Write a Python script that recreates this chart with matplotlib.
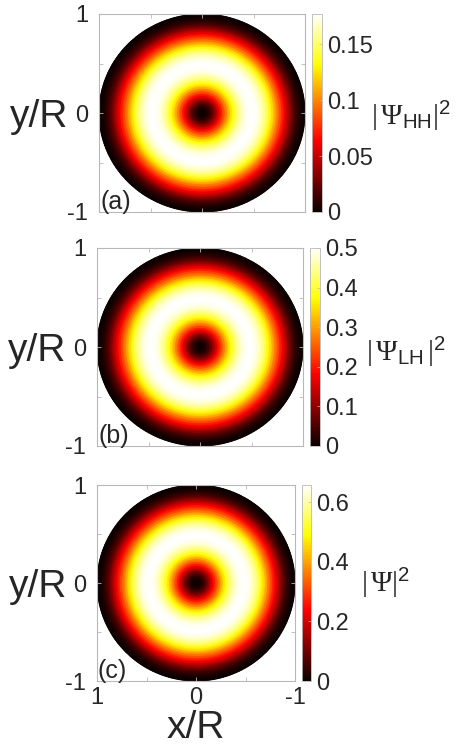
import numpy as np
import matplotlib
matplotlib.use('Agg')
import matplotlib.pyplot as plt

plt.rcParams['font.family'] = ['Liberation Sans', 'DejaVu Sans']
plt.rcParams['mathtext.fontset'] = 'custom'
plt.rcParams['mathtext.rm'] = 'Liberation Serif'
plt.rcParams['mathtext.sf'] = 'Liberation Sans'
plt.rcParams['mathtext.it'] = 'Liberation Serif:italic'

# radial profile (normalised to the peak), r = rho/R
r_nodes = [0.0, 0.025, 0.05, 0.075, 0.1, 0.125, 0.15, 0.175, 0.2, 0.225,
           0.25, 0.275, 0.3, 0.325, 0.35, 0.375, 0.4, 0.425, 0.45, 0.475,
           0.5, 0.525, 0.55, 0.575, 0.6, 0.625, 0.65, 0.675, 0.7, 0.725,
           0.75, 0.775, 0.8, 0.825, 0.85, 0.875, 0.9, 0.925, 0.95, 0.975, 1.0]
profile = [0.0, 0.01, 0.03, 0.07, 0.12, 0.19, 0.27, 0.36, 0.44, 0.52,
           0.6, 0.68, 0.75, 0.81, 0.87, 0.91, 0.95, 0.98, 0.99, 1.0,
           1.0, 0.99, 0.97, 0.94, 0.9, 0.85, 0.79, 0.72, 0.65, 0.57,
           0.5, 0.43, 0.36, 0.29, 0.22, 0.15, 0.1, 0.06, 0.03, 0.01, 0.0]

# per panel
peaks = [0.177, 0.5, 0.657]
panel_tags = ['(a)', '(b)', '(c)']
cbar_ticks = [[0, 0.05, 0.1, 0.15], [0, 0.1, 0.2, 0.3, 0.4, 0.5], [0, 0.2, 0.4, 0.6]]
cbar_ticklabels = [['0', '0.05', '0.1', '0.15'],
                   ['0', '0.1', '0.2', '0.3', '0.4', '0.5'],
                   ['0', '0.2', '0.4', '0.6']]
cbar_labels = [r'$|\,\Psi_{\mathsf{HH}}|^{\mathsf{2}}$',
               r'$|\,\Psi_{\mathsf{LH}}\,|^{\mathsf{2}}$',
               r'$|\,\Psi|^{\mathsf{2}}$']
axis_ticks = [-1, -0.5, 0, 0.5, 1]
axis_ticklabels = ['-1', '', '0', '', '1']

W, H = 458, 749
fig = plt.figure(figsize=(W / 100, H / 100), dpi=100)

# pixel boxes (left, top, right, bottom) of axes and colorbars
ax_boxes = [(99, 14, 305, 212), (97, 248, 303, 446), (97, 485, 295, 681)]
cb_boxes = [(312, 14, 322, 212), (310, 248, 320, 446), (302, 485, 311, 681)]
label_pos = [(371, 116), (366, 352), (361, 583)]

def frac(b):
    l, t, r, btm = b
    return [l / W, 1 - btm / H, (r - l) / W, (btm - t) / H]

grey = '#b8b8b8'
txt = '#262626'
theta = np.linspace(0, 2 * np.pi, 361)
rr = np.array(r_nodes)
X = np.outer(rr, np.cos(theta))
Y = np.outer(rr, np.sin(theta))

for i in range(3):
    ax = fig.add_axes(frac(ax_boxes[i]))
    C = np.repeat(np.array(profile)[:, None] * peaks[i], len(theta), axis=1)
    m = ax.pcolormesh(X, Y, C, shading='gouraud', cmap='hot', vmin=0, vmax=peaks[i])
    ax.set_xlim(1, -1)
    ax.set_ylim(-1, 1)
    ax.set_xticks(axis_ticks)
    ax.set_yticks(axis_ticks)
    ax.set_yticklabels(axis_ticklabels)
    if i == 2:
        ax.set_xticklabels(axis_ticklabels)
        ax.set_xlabel('x/R', fontsize=28, color=txt, labelpad=1)
    else:
        ax.set_xticklabels([])
    ax.tick_params(direction='in', length=3, width=0.6, color=grey,
                   labelsize=17, labelcolor=txt, pad=8, top=True, right=True)
    ax.tick_params(axis='x', pad=4)
    for s in ax.spines.values():
        s.set_edgecolor(grey)
        s.set_linewidth(0.8)
    ax.set_ylabel('y/R', fontsize=28, color=txt, rotation=0, ha='right', va='center')
    ax.yaxis.set_label_coords(-0.15, 0.48)
    ax.text(0.005, -0.01, panel_tags[i], transform=ax.transAxes, fontsize=18,
            color=txt, ha='left', va='bottom')

    cax = fig.add_axes(frac(cb_boxes[i]))
    cb = fig.colorbar(m, cax=cax)
    cb.set_ticks(cbar_ticks[i])
    cb.set_ticklabels(cbar_ticklabels[i])
    cb.outline.set_edgecolor(grey)
    cb.outline.set_linewidth(0.6)
    cax.tick_params(direction='in', length=2, width=0.5, color=grey,
                    labelsize=17, labelcolor=txt, pad=4)
    lx, ly = label_pos[i]
    fig.text(lx / W, 1 - ly / H, cbar_labels[i], fontsize=21, color=txt,
             ha='left', va='center')

fig.savefig('out.png', dpi=100)
